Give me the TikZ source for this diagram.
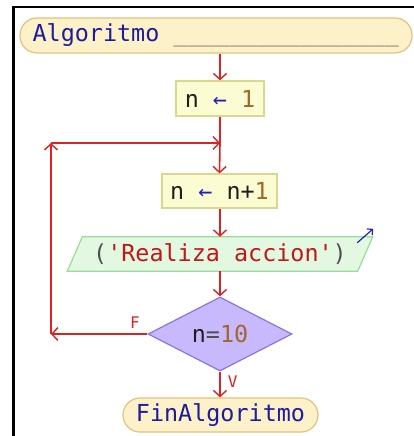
\documentclass[tikz,border=0pt]{standalone}
\usepackage{fontspec}
\usetikzlibrary{arrows.meta,shapes.geometric,backgrounds}
\newfontfamily\codefont{DejaVu Sans Mono}
\definecolor{termfill}{HTML}{FDF1C9}
\definecolor{termdraw}{HTML}{E2C27E}
\definecolor{kwblue}{HTML}{1C1C9C}
\definecolor{blankgray}{HTML}{7C7C64}
\definecolor{boxfill}{HTML}{FCFCD2}
\definecolor{boxdraw}{HTML}{D8D88E}
\definecolor{iofill}{HTML}{E2F8E0}
\definecolor{iodraw}{HTML}{98DE98}
\definecolor{condfill}{HTML}{C8B8FC}
\definecolor{conddraw}{HTML}{8676E6}
\definecolor{flowred}{HTML}{DD2222}
\definecolor{numbrown}{HTML}{A0682C}
\definecolor{strred}{HTML}{C01818}
\definecolor{opgray}{HTML}{505050}
\definecolor{opblue}{HTML}{2424B4}
\tikzset{
  code/.style={font=\codefont\fontsize{23.4}{28}\selectfont, text=black!88},
  terminal/.style={code, draw=termdraw, fill=termfill, line width=1.2pt,
    rounded corners=17pt, text=kwblue, inner sep=0pt},
  assign/.style={code, draw=boxdraw, fill=boxfill, line width=1.2pt, inner sep=0pt},
  iotext/.style={code, inner sep=0pt, minimum width=290pt, minimum height=34pt},
  iobox/.style={draw=iodraw, fill=iofill, line width=1.2pt},
  cond/.style={code, diamond, draw=conddraw, fill=condfill, line width=1.2pt,
    inner sep=0pt, minimum width=144pt, minimum height=68pt},
  flow/.style={draw=flowred, line width=1.6pt,
    -{Straight Barb[length=6pt,width=13pt,line width=1.4pt]}},
  plain/.style={draw=flowred, line width=1.6pt},
  branch/.style={font=\codefont\fontsize{16}{19}\selectfont, text=flowred, inner sep=0pt},
}
\begin{document}
\begin{tikzpicture}[x=1pt,y=-1pt]
\useasboundingbox (0,0) rectangle (414,436);
% page frame
\draw[line width=2.4pt] (414,7.3) -- (13.4,7.3) -- (13.4,436);

% nodes
\node[terminal, minimum width=392pt, minimum height=35pt] (start) at (216,35.5) {};
\node[code, text=kwblue, anchor=west, inner sep=0pt] (title) at ([xshift=13pt]start.west)
  {Algoritmo \textcolor{blankgray}{\_\_\_\_\_\_\_\_\_\_\_\_\_\_\_\_}};
\node[assign, minimum width=88pt, minimum height=35pt] (b1) at (220,98.5)
  {n \textcolor{opblue}{←} \textcolor{numbrown}{1}};
\node[assign, minimum width=115pt, minimum height=34pt] (b2) at (219.5,191)
  {n \textcolor{opblue}{←} n+\textcolor{numbrown}{1}};
\node[iotext] (io) at (220,254)
  {\textcolor{opgray}{(}\textcolor{strred}{'Realiza accion'}\textcolor{opgray}{)}};
\node[cond] (d) at (220,334)
  {n\textcolor{opgray}{=}\textcolor{numbrown}{10}};
\node[terminal, minimum width=195pt, minimum height=34pt] (end) at (220.5,415)
  {FinAlgoritmo};

% output parallelogram behind its text
\begin{scope}[on background layer]
  \path[iobox] ([xshift=-7.5pt]io.south west) -- ([xshift=-7.5pt]io.south east)
    -- ([xshift=7.5pt]io.north east) -- ([xshift=7.5pt]io.north west) -- cycle;
\end{scope}
\coordinate (ioout) at ([xshift=-8pt,yshift=-6pt]io.north east);
\coordinate (iotip) at ([xshift=8pt,yshift=8pt]io.north east);
\draw[draw=opblue, line width=1.2pt, -{Straight Barb[length=4pt,width=8pt]}] (ioout) -- (iotip);

% loop coordinates
\coordinate (m) at (220,143);
\coordinate (c1) at (51,334);
\coordinate (c2) at (51,143);

% connectors
\draw[flow] (start.south -| b1) -- (b1.north);
\draw[plain] (b1.south) -- (m);
\draw[flow] (m) -- (b2.north);
\draw[flow] (b2.south -| io) -- (io.north);
\draw[flow] (io.south) -- (d.north);
\draw[flow] (d.west) -- node[branch, above, pos=0.13, yshift=5pt] {F} (c1);
\draw[flow] (c1) -- (c2);
\draw[flow] (c2) -- (m);
\draw[flow] (d.south) -- node[branch, right, pos=0.4, xshift=7pt] {V} (end.north -| d);
\end{tikzpicture}
\end{document}
